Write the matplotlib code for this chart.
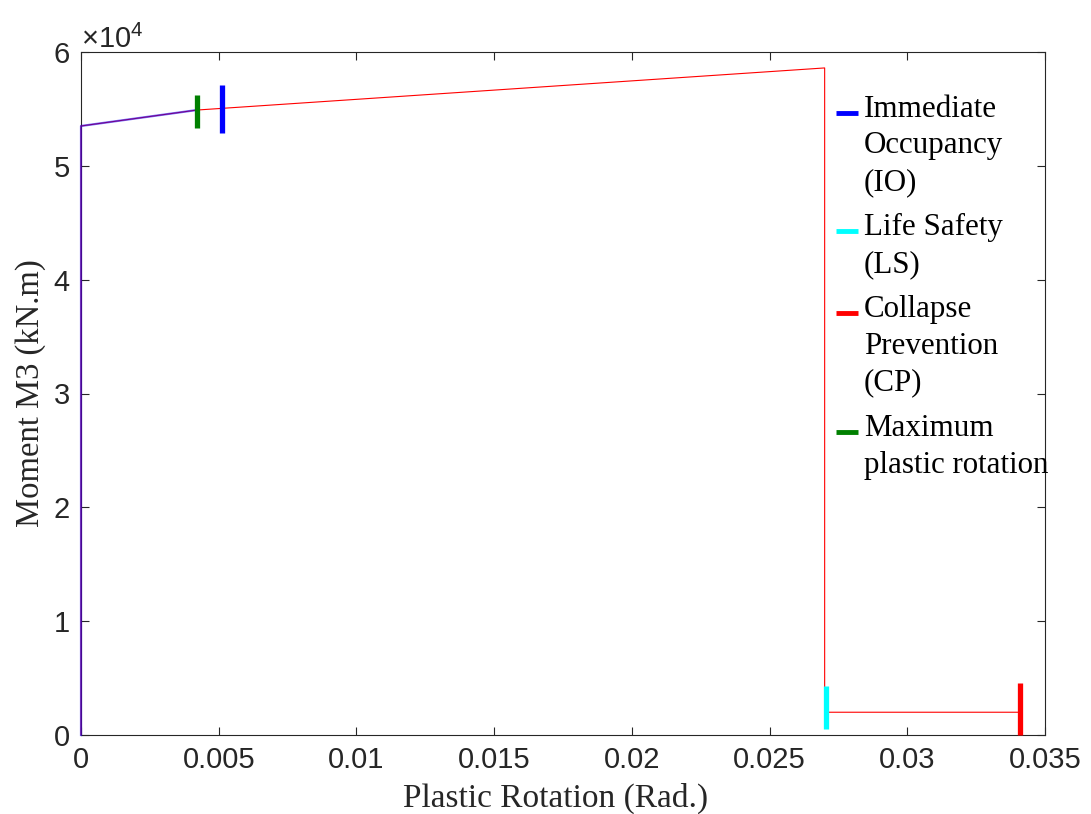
import matplotlib
matplotlib.use("Agg")
import matplotlib.pyplot as plt
from matplotlib.ticker import ScalarFormatter

# Moment-rotation backbone of the plastic hinge (rotation in rad, moment in kN.m)
rotation = [0.0, 0.0, 0.0042, 0.0270, 0.0270, 0.0341]
moment = [0.0, 53500.0, 54900.0, 58600.0, 2000.0, 2000.0]

# Portion of the curve reached so far (overlay)
reached_rot = [0.0, 0.0, 0.0042]
reached_mom = [0.0, 53500.0, 54900.0]

# Acceptance criteria markers: rotation, moment at curve, half height
level_names = [["Immediate", "Occupancy", "(IO)"],
               ["Life Safety", "(LS)"],
               ["Collapse", "Prevention", "(CP)"],
               ["Maximum", "plastic rotation"]]
level_rot = [0.00512, 0.02705, 0.0341, 0.00421]
level_mom = [55000.0, 2400.0, 2300.0, 54750.0]
level_half = [2100.0, 1900.0, 2300.0, 1450.0]
level_colors = ["#0000ff", "#00ffff", "#ff0000", "#008000"]

xticks = [0, 0.005, 0.01, 0.015, 0.02, 0.025, 0.03, 0.035]
xtick_labels = ["0", "0.005", "0.01", "0.015", "0.02", "0.025", "0.03", "0.035"]

plt.rcParams["mathtext.fontset"] = "custom"
plt.rcParams["mathtext.rm"] = "Liberation Sans"
plt.rcParams["mathtext.it"] = "Liberation Sans"

W, H = 1091, 814
fig = plt.figure(figsize=(W / 100, H / 100), dpi=100)
ax_left, ax_right, ax_top, ax_bottom = 81, 1045, 52, 735
ax = fig.add_axes([ax_left / W, 1 - ax_bottom / H,
                   (ax_right - ax_left) / W, (ax_bottom - ax_top) / H])

ax.plot(rotation, moment, color="#ff0000", lw=0.8, zorder=3, clip_on=False)
ax.plot(reached_rot, reached_mom, color="#0000ff", lw=1.6, alpha=0.55,
        zorder=3, clip_on=False)

for r, m, h, c in zip(level_rot, level_mom, level_half, level_colors):
    ax.plot([r, r], [m - h, m + h], color=c, lw=3.8, solid_capstyle="butt",
            zorder=4, clip_on=False)

ax.set_xlim(0, 0.035)
ax.set_ylim(0, 60000)
ax.set_xticks(xticks)
ax.set_xticklabels(xtick_labels)
ax.set_yticks([0, 10000, 20000, 30000, 40000, 50000, 60000])

fmt = ScalarFormatter(useMathText=True)
fmt.set_powerlimits((0, 0))
ax.yaxis.set_major_formatter(fmt)
ax.yaxis.get_offset_text().set_fontsize(21)
ax.yaxis.get_offset_text().set_family("Liberation Sans")
ax.yaxis.get_offset_text().set_color("#262626")

for s in ax.spines.values():
    s.set_color("#262626")
    s.set_linewidth(0.8)

ax.tick_params(direction="in", top=True, right=True, length=6, width=0.8,
               colors="#262626", labelsize=21, pad=8)
for lab in ax.get_xticklabels() + ax.get_yticklabels():
    lab.set_family("Liberation Sans")

ax.set_xlabel("Plastic Rotation (Rad.)", family="Liberation Serif", fontsize=24,
              color="#262626", labelpad=6)
ax.xaxis.label.set_x(0.492)
ax.set_ylabel("Moment M3 (kN.m)", family="Liberation Serif", fontsize=23.5,
              color="#262626", labelpad=5)

# Legend drawn by hand: handle sits beside the first line of each entry
def yfrac(py):
    return (ax_bottom - py) / (ax_bottom - ax_top)

def xfrac(px):
    return (px - ax_left) / (ax_right - ax_left)

line_step = 36.5
entry_gap = 9.0
baseline = 117.0
for lines, c in zip(level_names, level_colors):
    ax.plot([xfrac(836), xfrac(858)], [yfrac(baseline - 4.5)] * 2,
            transform=ax.transAxes, color=c, lw=3.5, solid_capstyle="butt",
            clip_on=False)
    for i, txt in enumerate(lines):
        ax.text(xfrac(864), yfrac(baseline + i * line_step), txt,
                transform=ax.transAxes, ha="left", va="baseline",
                family="Liberation Serif", fontsize=22.3, color="black",
                clip_on=False)
    baseline += len(lines) * line_step + entry_gap

fig.savefig("out.png", dpi=100)
